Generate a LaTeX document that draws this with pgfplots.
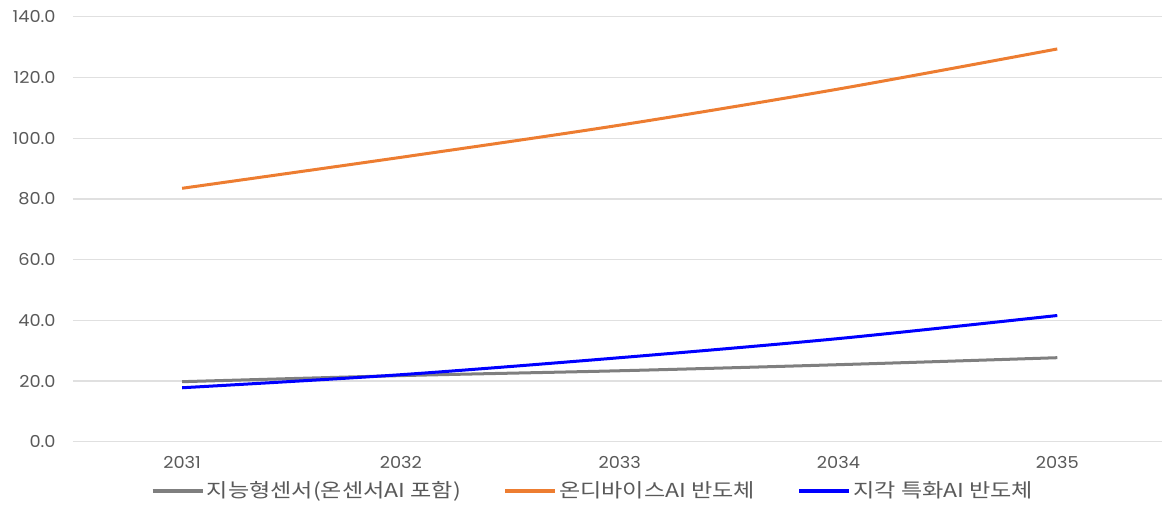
\documentclass[border={3pt 0pt 0pt 2pt}]{standalone}
\usepackage{pgfplots}
\pgfplotsset{compat=1.18}
\usepackage{fontspec}
\setmainfont[FakeStretch=1.08]{Poppins}
\newfontfamily\kr[FakeStretch=1.2]{Noto Sans CJK KR}
\definecolor{cgray}{HTML}{7F7F7F}
\definecolor{corange}{HTML}{ED7D31}
\definecolor{cblue}{HTML}{0000FF}
\definecolor{gridc}{HTML}{E0E0E0}
\definecolor{tickc}{HTML}{595959}
\begin{document}
\begin{tikzpicture}
\begin{axis}[
  scale only axis,
  width=543.5pt, height=212pt,
  xmin=2030.5, xmax=2035.48,
  ymin=0, ymax=140,
  xtick={2031,2032,2033,2034,2035},
  ytick={0,20,40,60,80,100,120,140},
  x tick label style={/pgf/number format/set thousands separator={}, /pgf/number format/precision=0, yshift=-3.5pt},
  y tick label style={/pgf/number format/fixed, /pgf/number format/fixed zerofill, /pgf/number format/precision=1, xshift=-5pt},
  /pgf/number format/assume math mode=true,
  ticklabel style={font=\fontsize{8.2pt}{9pt}\selectfont, text=tickc},
  axis line style={draw=none},
  major tick length=0pt,
  ymajorgrids, xmajorgrids=false, grid style={draw=gridc, line width=0.7pt},
  legend style={draw=none, fill=none, at={(0.4775,-0.116)}, anchor=center,
    legend columns=3, font=\kr\fontsize{9.6pt}{11pt}\selectfont, text=tickc,
    /tikz/every even column/.append style={column sep=20pt},
    nodes={inner xsep=1pt}},
  legend image code/.code={\draw[#1, line width=2pt] (0pt,0pt) -- (25pt,0pt);},
  clip=false,
]
\addplot[cgray, line width=1.5pt, smooth] coordinates {(2031,19.8) (2032,21.8) (2033,23.4) (2034,25.4) (2035,27.7)};
\addlegendentry{지능형센서(온센서AI 포함)}
\addplot[corange, line width=1.5pt, smooth] coordinates {(2031,83.5) (2032,93.7) (2033,104.3) (2034,116.2) (2035,129.4)};
\addlegendentry{온디바이스AI 반도체}
\addplot[cblue, line width=1.5pt, smooth] coordinates {(2031,17.8) (2032,22.1) (2033,27.7) (2034,34.0) (2035,41.6)};
\addlegendentry{지각 특화AI 반도체}
\end{axis}
\end{tikzpicture}
\end{document}
